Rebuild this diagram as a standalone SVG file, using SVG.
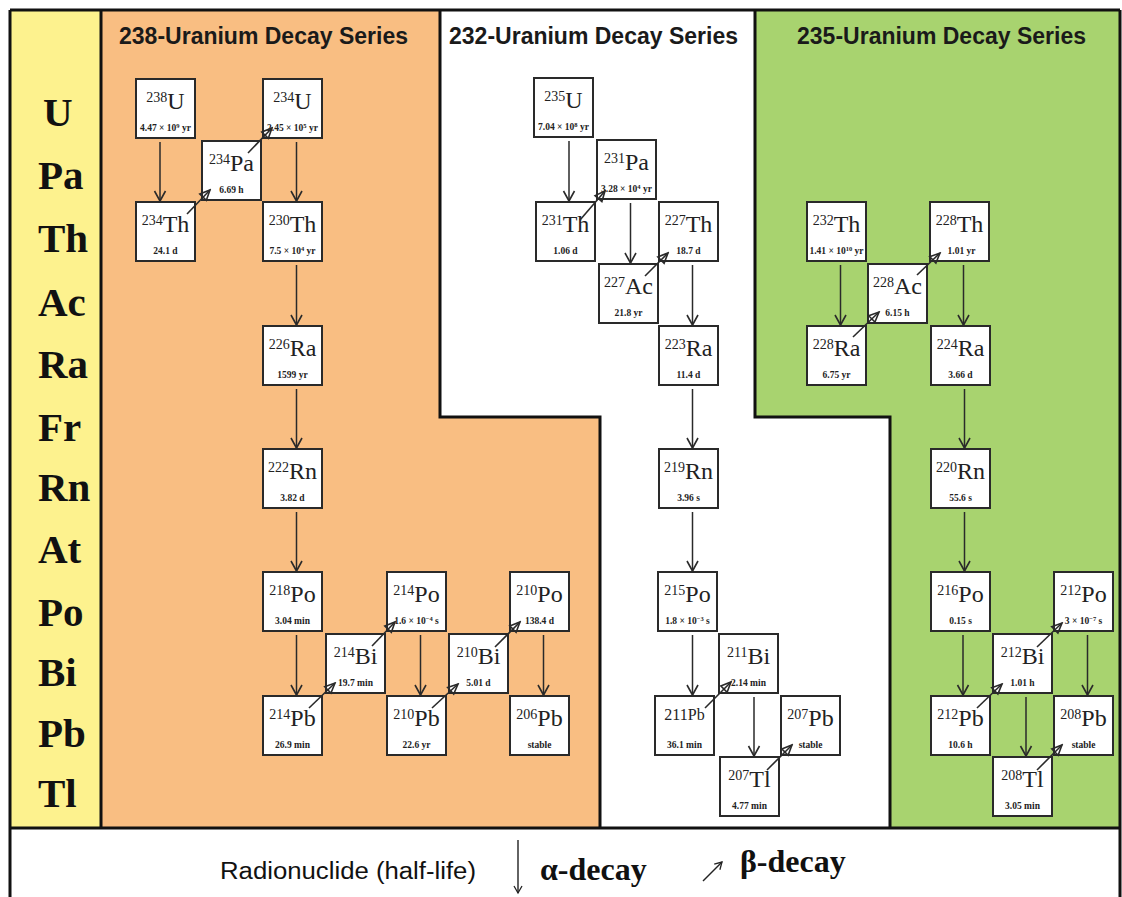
<svg xmlns="http://www.w3.org/2000/svg" width="1122" height="897" viewBox="0 0 1122 897">
<defs>
<style>
.box{fill:#fff;stroke:#2a2a2a;stroke-width:2}
.lbl{font-family:"Liberation Serif","Times New Roman",serif;text-anchor:middle;fill:#222}
.m{font-size:14px}
.s{font-size:24px}
.hl{font-family:"Liberation Serif","Times New Roman",serif;font-weight:bold;font-size:9.5px;text-anchor:middle;fill:#222}
.sup{font-size:6.5px}
.a{stroke:#2a2a2a;stroke-width:1.5;fill:none;marker-end:url(#ah)}
.b{stroke:#2a2a2a;stroke-width:1.6;fill:none;marker-end:url(#bh)}
.title{font-family:"Liberation Sans",Arial,sans-serif;font-weight:bold;font-size:23px;text-anchor:middle;fill:#1a1a1a}
.el{font-family:"Liberation Serif","Times New Roman",serif;font-weight:bold;font-size:41px;fill:#111}
.border{stroke:#111;stroke-width:3;fill:none}
</style>
<marker id="ah" viewBox="-12 -7 14 14" refX="0" refY="0" markerWidth="14" markerHeight="14" orient="auto" markerUnits="userSpaceOnUse">
<path d="M-10,-5.5 L0,0 L-10,5.5" fill="none" stroke="#2a2a2a" stroke-width="1.6"/>
</marker>
<marker id="bh" viewBox="-12 -7 14 14" refX="0" refY="0" markerWidth="14" markerHeight="14" orient="auto" markerUnits="userSpaceOnUse">
<path d="M-10,-4.5 L0,0 L-10,4.5 Z" fill="none" stroke="#2a2a2a" stroke-width="1.6"/>
</marker>
<marker id="lh" viewBox="-9 -6 11 12" refX="0" refY="0" markerWidth="11" markerHeight="12" orient="auto" markerUnits="userSpaceOnUse">
<path d="M-7,-4 L0,0 L-7,4" fill="none" stroke="#222" stroke-width="1.3"/>
</marker>
</defs>

<g id="background">
<rect x="0" y="0" width="1122" height="897" fill="#fff"/>
<rect x="10" y="10" width="91" height="818" fill="#FDF28E"/>
<polygon points="101,10 440,10 440,417 600,417 600,828 101,828" fill="#F9BE82"/>
<polygon points="755,10 1120,10 1120,828 890,828 890,417 755,417" fill="#A8D36F"/>
<path class="border" d="M10,10 H1120 M10,10 V897 M1120,10 V897 M10,828 H1120 M101,10 V828 M440,10 V417 H600 V828 M755,10 V417 H890 V828"/>
</g>

<g id="titles">
<text class="title" x="263.5" y="44">238-Uranium Decay Series</text>
<text class="title" x="593.5" y="44">232-Uranium Decay Series</text>
<text class="title" x="941.5" y="44">235-Uranium Decay Series</text>
</g>

<g id="elements">
<text class="el" x="43" y="126">U</text>
<text class="el" x="38" y="189">Pa</text>
<text class="el" x="38" y="252">Th</text>
<text class="el" x="38" y="316">Ac</text>
<text class="el" x="38" y="378">Ra</text>
<text class="el" x="38" y="441">Fr</text>
<text class="el" x="38" y="501">Rn</text>
<text class="el" x="38" y="563">At</text>
<text class="el" x="38" y="626">Po</text>
<text class="el" x="38" y="686">Bi</text>
<text class="el" x="38" y="747">Pb</text>
<text class="el" x="38" y="807">Tl</text>
</g>

<g id="n-U238"><rect class="box" x="136" y="79" width="59" height="59"/><text class="lbl" x="165.5" y="109"><tspan class="m" dy="-7">238</tspan><tspan class="s" dy="7">U</tspan></text><text class="hl" x="165.5" y="131">4.47 × 10<tspan class="sup" dy="-3.5">9</tspan><tspan dy="3.5"> yr</tspan></text></g>
<g id="n-U234"><rect class="box" x="263" y="79" width="59" height="59"/><text class="lbl" x="292.5" y="109"><tspan class="m" dy="-7">234</tspan><tspan class="s" dy="7">U</tspan></text><text class="hl" x="292.5" y="131">2.45 × 10<tspan class="sup" dy="-3.5">5</tspan><tspan dy="3.5"> yr</tspan></text></g>
<g id="n-Pa234"><rect class="box" x="202" y="141" width="59" height="59"/><text class="lbl" x="231.5" y="171"><tspan class="m" dy="-7">234</tspan><tspan class="s" dy="7">Pa</tspan></text><text class="hl" x="231.5" y="193">6.69 h</text></g>
<g id="n-Th234"><rect class="box" x="136" y="202" width="59" height="59"/><text class="lbl" x="165.5" y="232"><tspan class="m" dy="-7">234</tspan><tspan class="s" dy="7">Th</tspan></text><text class="hl" x="165.5" y="254">24.1 d</text></g>
<g id="n-Th230"><rect class="box" x="263" y="202" width="59" height="59"/><text class="lbl" x="292.5" y="232"><tspan class="m" dy="-7">230</tspan><tspan class="s" dy="7">Th</tspan></text><text class="hl" x="292.5" y="254">7.5 × 10<tspan class="sup" dy="-3.5">4</tspan><tspan dy="3.5"> yr</tspan></text></g>
<g id="n-Ra226"><rect class="box" x="263" y="326" width="59" height="59"/><text class="lbl" x="292.5" y="356"><tspan class="m" dy="-7">226</tspan><tspan class="s" dy="7">Ra</tspan></text><text class="hl" x="292.5" y="378">1599 yr</text></g>
<g id="n-Rn222"><rect class="box" x="263" y="449" width="59" height="59"/><text class="lbl" x="292.5" y="479"><tspan class="m" dy="-7">222</tspan><tspan class="s" dy="7">Rn</tspan></text><text class="hl" x="292.5" y="501">3.82 d</text></g>
<g id="n-Po218"><rect class="box" x="263" y="572" width="59" height="59"/><text class="lbl" x="292.5" y="602"><tspan class="m" dy="-7">218</tspan><tspan class="s" dy="7">Po</tspan></text><text class="hl" x="292.5" y="624">3.04 min</text></g>
<g id="n-Pb214"><rect class="box" x="263" y="696" width="59" height="59"/><text class="lbl" x="292.5" y="726"><tspan class="m" dy="-7">214</tspan><tspan class="s" dy="7">Pb</tspan></text><text class="hl" x="292.5" y="748">26.9 min</text></g>
<g id="n-Bi214"><rect class="box" x="326" y="634" width="59" height="59"/><text class="lbl" x="355.5" y="664"><tspan class="m" dy="-7">214</tspan><tspan class="s" dy="7">Bi</tspan></text><text class="hl" x="355.5" y="686">19.7 min</text></g>
<g id="n-Po214"><rect class="box" x="387" y="572" width="59" height="59"/><text class="lbl" x="416.5" y="602"><tspan class="m" dy="-7">214</tspan><tspan class="s" dy="7">Po</tspan></text><text class="hl" x="416.5" y="624">1.6 × 10<tspan class="sup" dy="-3.5">−4</tspan><tspan dy="3.5"> s</tspan></text></g>
<g id="n-Pb210"><rect class="box" x="387" y="696" width="59" height="59"/><text class="lbl" x="416.5" y="726"><tspan class="m" dy="-7">210</tspan><tspan class="s" dy="7">Pb</tspan></text><text class="hl" x="416.5" y="748">22.6 yr</text></g>
<g id="n-Bi210"><rect class="box" x="449" y="634" width="59" height="59"/><text class="lbl" x="478.5" y="664"><tspan class="m" dy="-7">210</tspan><tspan class="s" dy="7">Bi</tspan></text><text class="hl" x="478.5" y="686">5.01 d</text></g>
<g id="n-Po210"><rect class="box" x="510" y="572" width="59" height="59"/><text class="lbl" x="539.5" y="602"><tspan class="m" dy="-7">210</tspan><tspan class="s" dy="7">Po</tspan></text><text class="hl" x="539.5" y="624">138.4 d</text></g>
<g id="n-Pb206"><rect class="box" x="510" y="696" width="59" height="59"/><text class="lbl" x="539.5" y="726"><tspan class="m" dy="-7">206</tspan><tspan class="s" dy="7">Pb</tspan></text><text class="hl" x="539.5" y="748">stable</text></g>

<g id="n-U235"><rect class="box" x="534" y="78" width="59" height="59"/><text class="lbl" x="563.5" y="108"><tspan class="m" dy="-7">235</tspan><tspan class="s" dy="7">U</tspan></text><text class="hl" x="563.5" y="130">7.04 × 10<tspan class="sup" dy="-3.5">8</tspan><tspan dy="3.5"> yr</tspan></text></g>
<g id="n-Pa231"><rect class="box" x="597" y="140" width="59" height="59"/><text class="lbl" x="626.5" y="170"><tspan class="m" dy="-7">231</tspan><tspan class="s" dy="7">Pa</tspan></text><text class="hl" x="626.5" y="192">3.28 × 10<tspan class="sup" dy="-3.5">4</tspan><tspan dy="3.5"> yr</tspan></text></g>
<g id="n-Th231"><rect class="box" x="536" y="202" width="59" height="59"/><text class="lbl" x="565.5" y="232"><tspan class="m" dy="-7">231</tspan><tspan class="s" dy="7">Th</tspan></text><text class="hl" x="565.5" y="254">1.06 d</text></g>
<g id="n-Th227"><rect class="box" x="659" y="202" width="59" height="59"/><text class="lbl" x="688.5" y="232"><tspan class="m" dy="-7">227</tspan><tspan class="s" dy="7">Th</tspan></text><text class="hl" x="688.5" y="254">18.7 d</text></g>
<g id="n-Ac227"><rect class="box" x="599" y="264" width="59" height="59"/><text class="lbl" x="628.5" y="294"><tspan class="m" dy="-7">227</tspan><tspan class="s" dy="7">Ac</tspan></text><text class="hl" x="628.5" y="316">21.8 yr</text></g>
<g id="n-Ra223"><rect class="box" x="659" y="326" width="59" height="59"/><text class="lbl" x="688.5" y="356"><tspan class="m" dy="-7">223</tspan><tspan class="s" dy="7">Ra</tspan></text><text class="hl" x="688.5" y="378">11.4 d</text></g>
<g id="n-Rn219"><rect class="box" x="659" y="449" width="59" height="59"/><text class="lbl" x="688.5" y="479"><tspan class="m" dy="-7">219</tspan><tspan class="s" dy="7">Rn</tspan></text><text class="hl" x="688.5" y="501">3.96 s</text></g>
<g id="n-Po215"><rect class="box" x="658" y="572" width="59" height="59"/><text class="lbl" x="687.5" y="602"><tspan class="m" dy="-7">215</tspan><tspan class="s" dy="7">Po</tspan></text><text class="hl" x="687.5" y="624">1.8 × 10<tspan class="sup" dy="-3.5">−3</tspan><tspan dy="3.5"> s</tspan></text></g>
<g id="n-Bi211"><rect class="box" x="719" y="634" width="59" height="59"/><text class="lbl" x="748.5" y="664"><tspan class="m" dy="-7">211</tspan><tspan class="s" dy="7">Bi</tspan></text><text class="hl" x="748.5" y="686">2.14 min</text></g>
<g id="n-Pb211"><rect class="box" x="655" y="696" width="59" height="59"/><text class="lbl" x="684.5" y="720" font-size="16">211Pb</text><text class="hl" x="684.5" y="748">36.1 min</text></g>
<g id="n-Pb207"><rect class="box" x="781" y="696" width="59" height="59"/><text class="lbl" x="810.5" y="726"><tspan class="m" dy="-7">207</tspan><tspan class="s" dy="7">Pb</tspan></text><text class="hl" x="810.5" y="748">stable</text></g>
<g id="n-Tl207"><rect class="box" x="720" y="757" width="59" height="59"/><text class="lbl" x="749.5" y="787"><tspan class="m" dy="-7">207</tspan><tspan class="s" dy="7">Tl</tspan></text><text class="hl" x="749.5" y="809">4.77 min</text></g>

<g id="n-Th232"><rect class="box" x="807" y="202" width="59" height="59"/><text class="lbl" x="836.5" y="232"><tspan class="m" dy="-7">232</tspan><tspan class="s" dy="7">Th</tspan></text><text class="hl" x="836.5" y="254">1.41 × 10<tspan class="sup" dy="-3.5">10</tspan><tspan dy="3.5"> yr</tspan></text></g>
<g id="n-Th228"><rect class="box" x="930" y="202" width="59" height="59"/><text class="lbl" x="959.5" y="232"><tspan class="m" dy="-7">228</tspan><tspan class="s" dy="7">Th</tspan></text><text class="hl" x="961.5" y="254">1.01 yr</text></g>
<g id="n-Ac228"><rect class="box" x="868" y="264" width="59" height="59"/><text class="lbl" x="897.5" y="294"><tspan class="m" dy="-7">228</tspan><tspan class="s" dy="7">Ac</tspan></text><text class="hl" x="897.5" y="316">6.15 h</text></g>
<g id="n-Ra228"><rect class="box" x="807" y="326" width="59" height="59"/><text class="lbl" x="836.5" y="356"><tspan class="m" dy="-7">228</tspan><tspan class="s" dy="7">Ra</tspan></text><text class="hl" x="836.5" y="378">6.75 yr</text></g>
<g id="n-Ra224"><rect class="box" x="931" y="326" width="59" height="59"/><text class="lbl" x="960.5" y="356"><tspan class="m" dy="-7">224</tspan><tspan class="s" dy="7">Ra</tspan></text><text class="hl" x="960.5" y="378">3.66 d</text></g>
<g id="n-Rn220"><rect class="box" x="931" y="449" width="59" height="59"/><text class="lbl" x="960.5" y="479"><tspan class="m" dy="-7">220</tspan><tspan class="s" dy="7">Rn</tspan></text><text class="hl" x="960.5" y="501">55.6 s</text></g>
<g id="n-Po216"><rect class="box" x="931" y="572" width="59" height="59"/><text class="lbl" x="960.5" y="602"><tspan class="m" dy="-7">216</tspan><tspan class="s" dy="7">Po</tspan></text><text class="hl" x="960.5" y="624">0.15 s</text></g>
<g id="n-Po212"><rect class="box" x="1054" y="572" width="59" height="59"/><text class="lbl" x="1083.5" y="602"><tspan class="m" dy="-7">212</tspan><tspan class="s" dy="7">Po</tspan></text><text class="hl" x="1083.5" y="624">3 × 10<tspan class="sup" dy="-3.5">−7</tspan><tspan dy="3.5"> s</tspan></text></g>
<g id="n-Bi212"><rect class="box" x="993" y="634" width="59" height="59"/><text class="lbl" x="1022.5" y="664"><tspan class="m" dy="-7">212</tspan><tspan class="s" dy="7">Bi</tspan></text><text class="hl" x="1022.5" y="686">1.01 h</text></g>
<g id="n-Pb212"><rect class="box" x="931" y="696" width="59" height="59"/><text class="lbl" x="960.5" y="726"><tspan class="m" dy="-7">212</tspan><tspan class="s" dy="7">Pb</tspan></text><text class="hl" x="960.5" y="748">10.6 h</text></g>
<g id="n-Pb208"><rect class="box" x="1054" y="696" width="59" height="59"/><text class="lbl" x="1083.5" y="726"><tspan class="m" dy="-7">208</tspan><tspan class="s" dy="7">Pb</tspan></text><text class="hl" x="1083.5" y="748">stable</text></g>
<g id="n-Tl208"><rect class="box" x="993" y="757" width="59" height="59"/><text class="lbl" x="1022.5" y="787"><tspan class="m" dy="-7">208</tspan><tspan class="s" dy="7">Tl</tspan></text><text class="hl" x="1022.5" y="809">3.05 min</text></g>

<g id="connectors">
<line class="a" x1="160" y1="142" x2="160" y2="201"/>
<line class="a" x1="296.5" y1="142" x2="296.5" y2="201"/>
<line class="a" x1="296.5" y1="265" x2="296.5" y2="325"/>
<line class="a" x1="296.5" y1="389" x2="296.5" y2="448"/>
<line class="a" x1="296.5" y1="512" x2="296.5" y2="571"/>
<line class="a" x1="296.5" y1="635" x2="296.5" y2="695"/>
<line class="a" x1="420.5" y1="635" x2="420.5" y2="695"/>
<line class="a" x1="543.5" y1="635" x2="543.5" y2="695"/>
<line class="a" x1="569" y1="141" x2="569" y2="201"/>
<line class="a" x1="630.5" y1="203" x2="630.5" y2="263"/>
<line class="a" x1="692.5" y1="265" x2="692.5" y2="325"/>
<line class="a" x1="692.5" y1="389" x2="692.5" y2="448"/>
<line class="a" x1="692.5" y1="512" x2="692.5" y2="571"/>
<line class="a" x1="692.5" y1="635" x2="692.5" y2="695"/>
<line class="a" x1="754" y1="697" x2="754" y2="756"/>
<line class="a" x1="840.5" y1="265" x2="840.5" y2="325"/>
<line class="a" x1="963.5" y1="265" x2="963.5" y2="325"/>
<line class="a" x1="964.5" y1="389" x2="964.5" y2="448"/>
<line class="a" x1="964.5" y1="512" x2="964.5" y2="571"/>
<line class="a" x1="963" y1="635" x2="963" y2="695"/>
<line class="a" x1="1026" y1="697" x2="1026" y2="756"/>
<line class="a" x1="1087.5" y1="635" x2="1087.5" y2="695"/>

<line class="b" x1="187" y1="214" x2="210" y2="190"/>
<line class="b" x1="248" y1="153" x2="272" y2="128"/>
<line class="b" x1="309" y1="708" x2="335" y2="683"/>
<line class="b" x1="372" y1="646" x2="395" y2="622"/>
<line class="b" x1="432" y1="708" x2="458" y2="684"/>
<line class="b" x1="495" y1="647" x2="520" y2="622"/>
<line class="b" x1="580" y1="220" x2="605" y2="191"/>
<line class="b" x1="645" y1="276" x2="668" y2="253"/>
<line class="b" x1="705" y1="708" x2="731" y2="682"/>
<line class="b" x1="767" y1="770" x2="792" y2="745"/>
<line class="b" x1="853" y1="337" x2="879" y2="312"/>
<line class="b" x1="917" y1="275" x2="940" y2="253"/>
<line class="b" x1="977" y1="708" x2="1002" y2="684"/>
<line class="b" x1="1037" y1="647" x2="1062" y2="623"/>
<line class="b" x1="1037" y1="770" x2="1062" y2="745"/>
</g>

<g id="legend">
<text x="220" y="879" font-family="'Liberation Sans',Arial,sans-serif" font-size="23" textLength="256" lengthAdjust="spacingAndGlyphs" fill="#111">Radionuclide (half-life)</text>
<line x1="518" y1="840" x2="518" y2="893" stroke="#222" stroke-width="1.4" marker-end="url(#lh)"/>
<text x="540" y="880" font-family="'Liberation Serif','Times New Roman',serif" font-weight="bold" font-size="32" fill="#111">α-decay</text>
<line x1="703" y1="881" x2="722" y2="862" stroke="#222" stroke-width="1.4" marker-end="url(#lh)"/>
<text x="740" y="872" font-family="'Liberation Serif','Times New Roman',serif" font-weight="bold" font-size="32" fill="#111">β-decay</text>
</g>
</svg>
